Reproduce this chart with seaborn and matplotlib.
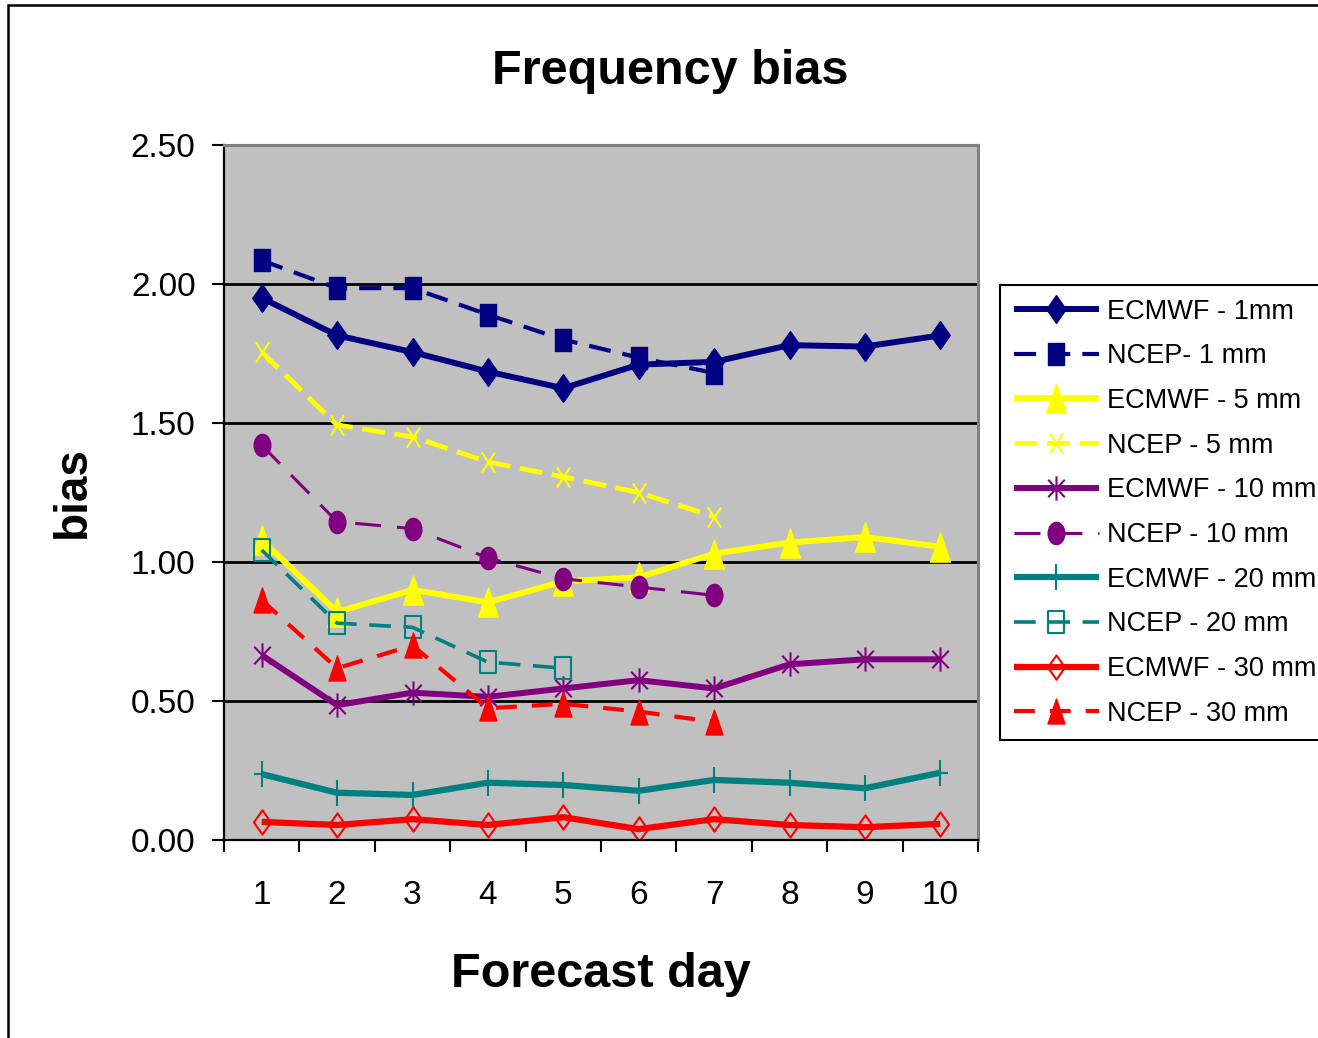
import numpy as np
import pandas as pd
import matplotlib
matplotlib.use("Agg")
import matplotlib.pyplot as plt
from matplotlib.path import Path
from matplotlib.patches import Rectangle
import seaborn as sns

# ---------------- data ----------------
days = [1, 2, 3, 4, 5, 6, 7, 8, 9, 10]
ecmwf_1mm = [1.95, 1.815, 1.755, 1.685, 1.625, 1.71, 1.72, 1.78, 1.775, 1.815]
ncep_1mm = [2.085, 1.985, 1.985, 1.89, 1.80, 1.735, 1.68]
ecmwf_5mm = [1.08, 0.82, 0.90, 0.855, 0.93, 0.945, 1.03, 1.07, 1.09, 1.055]
ncep_5mm = [1.755, 1.493, 1.45, 1.36, 1.306, 1.25, 1.163]
ecmwf_10mm = [0.665, 0.485, 0.53, 0.515, 0.545, 0.575, 0.545, 0.632, 0.65, 0.65]
ncep_10mm = [1.42, 1.145, 1.12, 1.015, 0.94, 0.91, 0.88]
ecmwf_20mm = [0.237, 0.17, 0.162, 0.206, 0.198, 0.177, 0.216, 0.206, 0.186, 0.242]
ncep_20mm = [1.043, 0.78, 0.765, 0.64, 0.618]
ecmwf_30mm = [0.065, 0.054, 0.075, 0.054, 0.082, 0.039, 0.075, 0.054, 0.046, 0.058]
ncep_30mm = [0.863, 0.618, 0.70, 0.474, 0.49, 0.462, 0.425]

series_labels = ["ECMWF - 1mm", "NCEP- 1 mm", "ECMWF - 5 mm", "NCEP - 5 mm",
                 "ECMWF - 10 mm", "NCEP - 10 mm", "ECMWF - 20 mm", "NCEP - 20 mm",
                 "ECMWF - 30 mm", "NCEP - 30 mm"]
series_values = [ecmwf_1mm, ncep_1mm, ecmwf_5mm, ncep_5mm, ecmwf_10mm, ncep_10mm,
                 ecmwf_20mm, ncep_20mm, ecmwf_30mm, ncep_30mm]
y_ticks = [0.0, 0.5, 1.0, 1.5, 2.0, 2.5]

# ---------------- marker shapes ----------------
def poly(pts):
    return Path(pts + [pts[0]], closed=True)

def segs(pairs):
    verts, codes = [], []
    for a, b in pairs:
        verts += [a, b]
        codes += [Path.MOVETO, Path.LINETO]
    return Path(verts, codes)

m_diamond = poly([(0, 1), (0.7, 0), (0, -1), (-0.7, 0)])
m_square = poly([(-0.68, -1), (0.68, -1), (0.68, 1), (-0.68, 1)])
m_tri = poly([(0, 1), (-0.68, -1), (0.68, -1)])
uc = Path.unit_circle()
m_ellipse = Path(uc.vertices * np.array([0.75, 1.0]), uc.codes)
m_x = segs([((-0.65, -1), (0.65, 1)), ((-0.65, 1), (0.65, -1))])
m_star = segs([((0, -1), (0, 1)), ((-0.68, -0.72), (0.68, 0.72)), ((-0.68, 0.72), (0.68, -0.72))])
m_plus = segs([((0, -1), (0, 1)), ((-0.6, 0), (0.6, 0))])

NAVY, YEL, PUR, TEAL, RED = "#000080", "#FFFF00", "#800080", "#008080", "#FF0000"

styles = [
    dict(color=NAVY, lw=4.3, ls="-", marker=m_diamond, ms=20, mfc=NAVY, mec=NAVY, mew=1),
    dict(color=NAVY, lw=3.0, ls=(0, (5.3, 2.9)), marker=m_square, ms=16, mfc=NAVY, mec=NAVY, mew=1),
    dict(color=YEL, lw=4.3, ls="-", marker=m_tri, ms=21, mfc=YEL, mec=YEL, mew=1),
    dict(color=YEL, lw=3.5, ls=(0, (4.7, 2.0)), marker=m_x, ms=14.5, mfc="none", mec=YEL, mew=1.5),
    dict(color=PUR, lw=4.3, ls="-", marker=m_star, ms=17.5, mfc="none", mec=PUR, mew=1.5),
    dict(color=PUR, lw=2.2, ls=(0, (8.5, 5.2)), marker=m_ellipse, ms=16, mfc=PUR, mec=PUR, mew=1),
    dict(color=TEAL, lw=4.5, ls="-", marker=m_plus, ms=19, mfc="none", mec=TEAL, mew=1.5),
    dict(color=TEAL, lw=2.6, ls=(0, (6.0, 3.5)), marker=m_square, ms=16, mfc="none", mec=TEAL, mew=1.5),
    dict(color=RED, lw=4.5, ls="-", marker=m_diamond, ms=17.5, mfc="none", mec=RED, mew=1.5),
    dict(color=RED, lw=3.0, ls=(0, (5.0, 3.6)), marker=m_tri, ms=18, mfc=RED, mec=RED, mew=1),
]

# ---------------- figure ----------------
sns.set_style("ticks")
plt.rcParams["font.family"] = ["Liberation Sans", "DejaVu Sans"]
plt.rcParams["text.color"] = "black"
plt.rcParams["axes.labelcolor"] = "black"
plt.rcParams["xtick.color"] = "black"
plt.rcParams["ytick.color"] = "black"

W, H = 1318, 1038
fig = plt.figure(figsize=(W / 100, H / 100), dpi=100)
L, R, T, B = 224, 978, 145, 840
ax = fig.add_axes([L / W, 1 - B / H, (R - L) / W, (B - T) / H])
ax.set_facecolor("#C0C0C0")

handles = []
for lab, vals, st in zip(series_labels, series_values, styles):
    df = pd.DataFrame({"day": days[:len(vals)], "bias": vals})
    sns.lineplot(data=df, x="day", y="bias", ax=ax, errorbar=None, legend=False,
                 color=st["color"], linewidth=st["lw"], linestyle=st["ls"],
                 marker=st["marker"], markersize=st["ms"], markerfacecolor=st["mfc"],
                 markeredgecolor=st["mec"], markeredgewidth=st["mew"])
    line = ax.lines[-1]
    line.set_label(lab)
    line.set_solid_capstyle("butt")
    line.set_dash_capstyle("butt")
    handles.append(line)

# axes limits / ticks
ax.set_xlim(0.5, 10.5)
ax.set_ylim(0, 2.5)
ax.set_xticks(days)
ax.set_xticklabels([str(d) for d in days])
ax.set_xticks(np.arange(0.5, 11, 1.0), minor=True)
ax.tick_params(axis="x", which="major", length=0, pad=29, labelsize=24, labelcolor="black")
ax.tick_params(axis="x", which="minor", length=8.5, width=1.5, direction="out", color="black")
ax.set_yticks(y_ticks)
ax.set_yticklabels([f"{v:.2f}" for v in y_ticks])
ax.tick_params(axis="y", which="major", length=8.5, width=1.5, direction="out", pad=12,
               labelsize=24, color="black", labelcolor="black")

ax.grid(axis="y", color="black", lw=2)
ax.grid(axis="x", visible=False)
ax.set_axisbelow(True)

for s in ["left", "bottom"]:
    ax.spines[s].set_color("black")
    ax.spines[s].set_linewidth(1.6)
for s in ["top", "right"]:
    ax.spines[s].set_visible(True)
    ax.spines[s].set_color("#808080")
    ax.spines[s].set_linewidth(2.2)

# labels
ax.set_xlabel("Forecast day", fontsize=35, fontweight="bold", color="black")
ax.xaxis.set_label_coords(0.5, (B - 952) / (B - T))
ax.set_ylabel("bias", fontsize=33, fontweight="bold", color="black")
ax.yaxis.set_label_coords((95 - L) / (R - L), 0.5)
fig.suptitle("Frequency bias", x=670 / W, y=1 - 84 / H, va="baseline",
             fontsize=35, fontweight="bold", color="black")

# legend
leg = ax.legend(handles=handles, loc="upper left",
                bbox_to_anchor=(1000 / W, 1 - 285 / H), bbox_transform=fig.transFigure,
                borderaxespad=0, fontsize=19.5, handlelength=3.15, handletextpad=0.3,
                labelspacing=0.69, borderpad=0.5, frameon=True, fancybox=False,
                edgecolor="black", framealpha=1, facecolor="white")
leg.get_frame().set_linewidth(1.5)
for t in leg.get_texts():
    t.set_color("black")

# outer chart border
fig.add_artist(Rectangle((8 / W, -0.1), 1.5, 1 - 5 / H + 0.1, transform=fig.transFigure,
                         fill=False, ec="black", lw=1.8))

fig.savefig("out.png", dpi=100)
